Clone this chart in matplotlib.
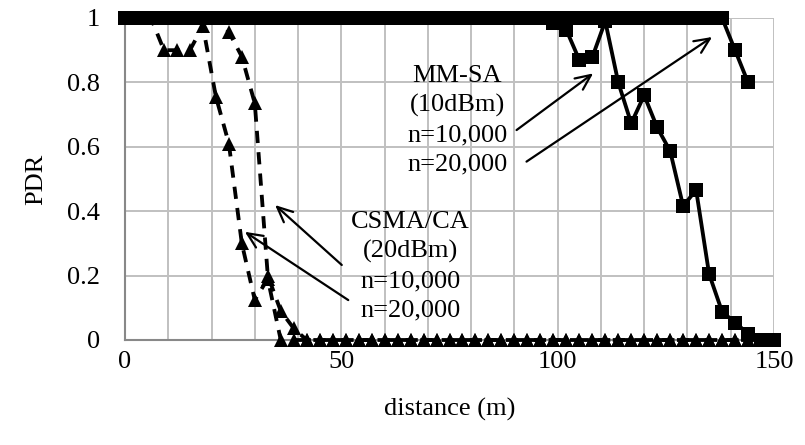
import numpy as np
import matplotlib
matplotlib.use("Agg")
import matplotlib.pyplot as plt

plt.rcParams['font.family'] = ['Liberation Serif', 'DejaVu Serif']

# ---- data -------------------------------------------------------------
distance = [0, 3, 6, 9, 12, 15, 18, 21, 24, 27, 30, 33, 36, 39, 42, 45, 48,
            51, 54, 57, 60, 63, 66, 69, 72, 75, 78, 81, 84, 87, 90, 93, 96,
            99, 102, 105, 108, 111, 114, 117, 120, 123, 126, 129, 132, 135,
            138, 141, 144, 147, 150]

mmsa_n10k = [1, 1, 1, 1, 1, 1, 1, 1, 1, 1, 1, 1, 1, 1, 1, 1, 1,
             1, 1, 1, 1, 1, 1, 1, 1, 1, 1, 1, 1, 1, 1, 1, 1,
             0.985, 0.963, 0.87, 0.878, 0.99, 0.80, 0.673, 0.76, 0.66, 0.587,
             0.416, 0.466, 0.205, 0.088, 0.054, 0.02, 0, 0]

mmsa_n20k = [1, 1, 1, 1, 1, 1, 1, 1, 1, 1, 1, 1, 1, 1, 1, 1, 1,
             1, 1, 1, 1, 1, 1, 1, 1, 1, 1, 1, 1, 1, 1, 1, 1,
             1, 1, 1, 1, 1, 1, 1, 1, 1, 1, 1, 1, 1, 1,
             0.90, 0.80, None, None]

csma_n20k = [1, 1, 1, 0.9, 0.9, 0.9, 0.975, 0.756, 0.61, 0.30, 0.124, 0.19, 0,
             0, 0, 0, 0, 0, 0, 0, 0, 0, 0, 0, 0, 0, 0, 0, 0, 0, 0, 0, 0,
             0, 0, 0, 0, 0, 0, 0, 0, 0, 0, 0, 0, 0, 0, 0, 0, 0, 0]

csma_n10k = [1, 1, 1, 1, 1, 1, 1, 1, 0.957, 0.88, 0.735, 0.20, 0.09,
             0.036, 0, 0, 0, 0, 0, 0, 0, 0, 0, 0, 0, 0, 0, 0, 0, 0, 0, 0, 0,
             0, 0, 0, 0, 0, 0, 0, 0, 0, 0, 0, 0, 0, 0, 0, 0, 0, 0]

x_major = [0, 50, 100, 150]
y_ticks = [0, 0.2, 0.4, 0.6, 0.8, 1.0]
y_labels = ['0', '0.2', '0.4', '0.6', '0.8', '1']


def arr(v):
    return np.array([np.nan if a is None else a for a in v], dtype=float)


# ---- figure -------------------------------------------------------------
W, H = 805, 445
fig = plt.figure(figsize=(W / 100, H / 100), dpi=100)
L, R, B, T = 125, 774, 340, 18
ax = fig.add_axes([L / W, 1 - B / H, (R - L) / W, (B - T) / H])

ax.set_xlim(0, 150)
ax.set_ylim(0, 1)
ax.set_xticks(x_major)
ax.set_xticks(np.arange(0, 151, 10), minor=True)
ax.set_yticks(y_ticks)
ax.set_yticklabels(y_labels)
ax.grid(which='both', color='#c0c0c0', lw=1.4)
ax.set_axisbelow(True)
ax.tick_params(which='both', length=0, labelsize=19)
ax.tick_params(axis='y', pad=18)
ax.tick_params(axis='x', pad=8)
for s in ['top', 'right']:
    ax.spines[s].set_visible(False)
for s in ['left', 'bottom']:
    ax.spines[s].set_color('#888888')
    ax.spines[s].set_linewidth(1.5)

x = np.array(distance, dtype=float)
dash = (0, (3.2, 2.4))
for ys in (csma_n20k, csma_n10k):
    ax.plot(x, arr(ys), color='black', lw=2.75, linestyle=dash,
            marker='^', ms=10, mew=0, clip_on=False, zorder=3)
for ys in (mmsa_n10k, mmsa_n20k):
    ax.plot(x, arr(ys), color='black', lw=2.75, linestyle='-',
            marker='s', ms=10, mew=0, clip_on=False, zorder=4)

ax.set_xlabel('distance (m)', fontsize=19, labelpad=18)
ax.set_ylabel('PDR', fontsize=19, labelpad=14)

# ---- annotations ------------------------------------------------------
ap = dict(arrowstyle='->,head_length=0.55,head_width=0.25', lw=1.6,
          color='black', shrinkA=0, shrinkB=0, mutation_scale=20)
ax.text(65.9, 0.23, 'CSMA/CA\n(20dBm)\nn=10,000\nn=20,000', fontsize=19,
        ha='center', va='center', linespacing=1.42, zorder=5)
ax.annotate('', xy=(34.7, 0.419), xytext=(50.1, 0.233), arrowprops=ap, zorder=5)
ax.annotate('', xy=(27.7, 0.336), xytext=(51.6, 0.124), arrowprops=ap, zorder=5)

ax.text(76.8, 0.683, 'MM-SA\n(10dBm)\nn=10,000\nn=20,000', fontsize=19,
        ha='center', va='center', linespacing=1.42, zorder=5)
ax.annotate('', xy=(108.2, 0.828), xytext=(90.5, 0.652), arrowprops=ap, zorder=5)
ax.annotate('', xy=(135.7, 0.941), xytext=(92.8, 0.554), arrowprops=ap, zorder=5)

fig.savefig('out.png', dpi=100)
